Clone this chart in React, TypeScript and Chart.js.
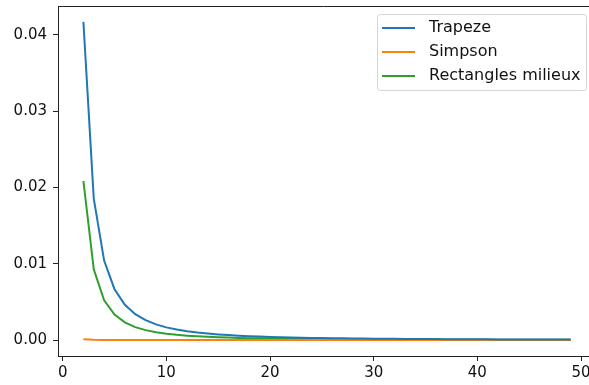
import React, { useEffect, useRef } from "react";
import { Chart, registerables } from "chart.js";

Chart.register(...registerables);

const nValues = [2, 3, 4, 5, 6, 7, 8, 9, 10, 11, 12, 13, 14, 15, 16, 17, 18, 19, 20, 21, 22, 23, 24, 25, 26, 27, 28, 29, 30, 31, 32, 33, 34, 35, 36, 37, 38, 39, 40, 41, 42, 43, 44, 45, 46, 47, 48, 49];

const trapeze = [0.041667, 0.018519, 0.010417, 0.006667, 0.00463, 0.003401, 0.002604, 0.002058, 0.001667, 0.001377, 0.001157, 0.000986, 0.00085, 0.000741, 0.000651, 0.000577, 0.000514, 0.000462, 0.000417, 0.000378, 0.000344, 0.000315, 0.000289, 0.000267, 0.000247, 0.000229, 0.000213, 0.000198, 0.000185, 0.000173, 0.000163, 0.000153, 0.000144, 0.000136, 0.000129, 0.000122, 0.000115, 0.00011, 0.000104, 0.000099, 0.000094, 0.00009, 0.000086, 0.000082, 0.000079, 0.000075, 0.000072, 0.000069];

const simpson = [0.00012, 0.00003, 0.00001, 0.000005, 0.000002, 0.000001, 0.000001, 0, 0, 0, 0, 0, 0, 0, 0, 0, 0, 0, 0, 0, 0, 0, 0, 0, 0, 0, 0, 0, 0, 0, 0, 0, 0, 0, 0, 0, 0, 0, 0, 0, 0, 0, 0, 0, 0, 0, 0, 0];

const milieux = [0.020833, 0.009259, 0.005208, 0.003333, 0.002315, 0.001701, 0.001302, 0.001029, 0.000833, 0.000689, 0.000579, 0.000493, 0.000425, 0.00037, 0.000326, 0.000288, 0.000257, 0.000231, 0.000208, 0.000189, 0.000172, 0.000158, 0.000145, 0.000133, 0.000123, 0.000114, 0.000106, 0.000099, 0.000093, 0.000087, 0.000081, 0.000077, 0.000072, 0.000068, 0.000064, 0.000061, 0.000058, 0.000055, 0.000052, 0.00005, 0.000047, 0.000045, 0.000043, 0.000041, 0.000039, 0.000038, 0.000036, 0.000035];

const seriesLabels = ["Trapeze", "Simpson", "Rectangles milieux"];
const seriesColors = ["#1f77b4", "#ff7f0e", "#2ca02c"];
const xTicks = [0, 10, 20, 30, 40, 50];
const yTicks = [0, 0.01, 0.02, 0.03, 0.04];

const FONT = "DejaVu Sans";
const TICK_SIZE = 15;
const LEGEND_SIZE = 16;

const frameAndLegend = {
  id: "frameAndLegend",
  afterDraw(chart: any) {
    const ctx = chart.ctx;
    const area = chart.chartArea;
    ctx.save();
    // top spine
    ctx.strokeStyle = "#222";
    ctx.lineWidth = 1;
    ctx.beginPath();
    ctx.moveTo(area.left, Math.round(area.top) + 0.5);
    ctx.lineTo(chart.width, Math.round(area.top) + 0.5);
    ctx.stroke();

    // legend box
    const bx = 377.5, by = 14.5, bw = 209, bh = 76, r = 3;
    ctx.beginPath();
    ctx.moveTo(bx + r, by);
    ctx.lineTo(bx + bw - r, by);
    ctx.quadraticCurveTo(bx + bw, by, bx + bw, by + r);
    ctx.lineTo(bx + bw, by + bh - r);
    ctx.quadraticCurveTo(bx + bw, by + bh, bx + bw - r, by + bh);
    ctx.lineTo(bx + r, by + bh);
    ctx.quadraticCurveTo(bx, by + bh, bx, by + bh - r);
    ctx.lineTo(bx, by + r);
    ctx.quadraticCurveTo(bx, by, bx + r, by);
    ctx.closePath();
    ctx.fillStyle = "rgba(255,255,255,0.8)";
    ctx.fill();
    ctx.strokeStyle = "#d5d5d5";
    ctx.stroke();

    ctx.font = `${LEGEND_SIZE}px "${FONT}"`;
    ctx.textBaseline = "middle";
    ctx.textAlign = "left";
    chart.data.datasets.forEach((ds: any, i: number) => {
      const y = 28 + i * 24;
      ctx.strokeStyle = ds.borderColor;
      ctx.lineWidth = 2;
      ctx.beginPath();
      ctx.moveTo(382, y);
      ctx.lineTo(415, y);
      ctx.stroke();
      ctx.fillStyle = "#111";
      ctx.fillText(ds.label, 429, y);
    });
    ctx.restore();
  },
};

export default function App() {
  const ref = useRef<HTMLCanvasElement | null>(null);
  useEffect(() => {
    if (!ref.current) return;
    const seriesData = [trapeze, simpson, milieux];
    const chart = new Chart(ref.current, {
      type: "line",
      data: {
        datasets: seriesData.map((vals, i) => ({
          label: seriesLabels[i],
          data: nValues.map((n, j) => ({ x: n, y: vals[j] })),
          borderColor: seriesColors[i],
          backgroundColor: seriesColors[i],
          borderWidth: 2,
          pointRadius: 0,
          tension: 0,
          fill: false,
        })),
      },
      options: {
        animation: false,
        responsive: false,
        devicePixelRatio: 1,
        layout: { padding: { top: 6, right: 0, bottom: 0, left: 0 } },
        plugins: { legend: { display: false }, tooltip: { enabled: false } },
        scales: {
          x: {
            type: "linear",
            min: -0.45,
            max: 50.77,
            afterBuildTicks: (s: any) => {
              s.ticks = xTicks.map((v) => ({ value: v }));
            },
            afterFit: (s: any) => {
              s.height = 29;
              s.paddingLeft = 0;
              s.paddingRight = 0;
              s.paddingTop = 0;
              s.paddingBottom = 0;
            },
            grid: {
              drawOnChartArea: false,
              drawTicks: true,
              tickLength: 5,
              tickColor: "#222",
            },
            border: { display: true, color: "#222", width: 1 },
            ticks: {
              padding: 3,
              color: "#111",
              font: { family: FONT, size: TICK_SIZE },
              maxRotation: 0,
              autoSkip: false,
              callback: (v: any) => String(v),
            },
          },
          y: {
            type: "linear",
            min: -0.002083,
            max: 0.04375,
            afterBuildTicks: (s: any) => {
              s.ticks = yTicks.map((v) => ({ value: v }));
            },
            afterFit: (s: any) => {
              s.width = 58;
              s.paddingLeft = 0;
              s.paddingRight = 0;
              s.paddingTop = 0;
              s.paddingBottom = 0;
            },
            grid: {
              drawOnChartArea: false,
              drawTicks: true,
              tickLength: 5,
              tickColor: "#222",
            },
            border: { display: true, color: "#222", width: 1 },
            ticks: {
              padding: 6,
              color: "#111",
              font: { family: FONT, size: TICK_SIZE },
              autoSkip: false,
              callback: (v: any) => Number(v).toFixed(2),
            },
          },
        },
      },
      plugins: [frameAndLegend],
    });
    return () => chart.destroy();
  }, []);
  return (
    <div style={{ position: "absolute", left: 0, top: 0, width: 589, height: 385, background: "#fff" }}>
      <canvas ref={ref} width={589} height={385} style={{ display: "block" }} />
    </div>
  );
}
